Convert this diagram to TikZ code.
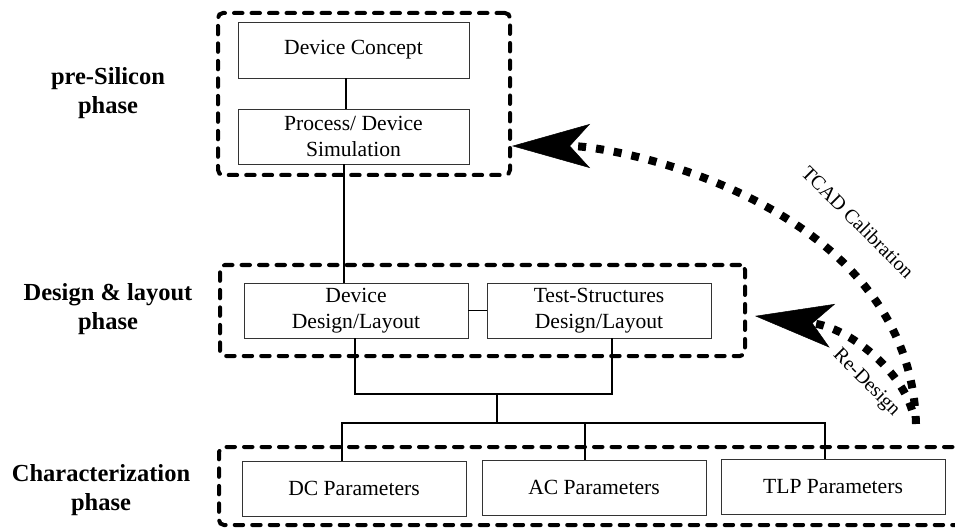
\documentclass[tikz,border=0pt]{standalone}
\usepackage{fontspec}
\setmainfont{Liberation Serif}
\usetikzlibrary{arrows.meta,calc}

\begin{document}
\begin{tikzpicture}[x=1pt,y=-1pt,
  stepbox/.style={draw=black!80, line width=0.9pt, inner sep=0pt, align=center,
    minimum width=224pt, minimum height=55pt, font=\fontsize{21.6}{25.5}\selectfont},
  phasebox/.style={draw=black, line width=4pt, dash pattern=on 8.5pt off 9pt,
    line cap=round, rounded corners=5pt, inner sep=0pt},
  phaselabel/.style={align=center, font=\bfseries\fontsize{24.5}{29}\selectfont},
  link/.style={draw=black, line width=1.2pt},
  feedback/.style={draw=black, line width=8pt, dash pattern=on 8pt off 10pt,
    -{Stealth[length=78pt,width=44pt,inset=20pt,line width=0.5pt]}},
  fblabel/.style={rotate=-45, font=\fontsize{20}{24}\selectfont}]

\useasboundingbox (0,0) rectangle (955,529);
\clip (0,0) rectangle (955,529);

% phase groups
\node[phasebox, minimum width=292pt, minimum height=162pt] (g1) at (364,94) {};
\node[phasebox, minimum width=525pt, minimum height=91pt]  (g2) at (482.5,310.5) {};
\node[phasebox, minimum width=756pt, minimum height=78pt]  (g3) at (597,486) {};

% phase labels
\node[phaselabel] (l1) at (108,93)  {pre-Silicon\\phase};
\node[phaselabel] (l2) at (108,309) {Design \& layout\\phase};
\node[phaselabel] (l3) at (101,490) {Characterization\\phase};

% steps
\node[stepbox, minimum width=231pt, minimum height=56pt] (concept) at (353.5,50) {Device Concept};
\node[stepbox, minimum width=231pt] (proc) at (353.5,136.5) {Process/ Device\\Simulation};
\node[stepbox] (design) at (356,310.5) {Device\\Design/Layout};
\node[stepbox] (test)   at (599,310.5) {Test-Structures\\Design/Layout};
\node[stepbox] (dcp) at (354,488.5) {DC Parameters};
\node[stepbox] (acp) at (594,487.5) {AC Parameters};
\node[stepbox] (tlp) at (833,486.5) {TLP Parameters};

% connector positions
\coordinate (c1) at (346,0);
\coordinate (c2) at (344,0);
\coordinate (c3) at (355,0);
\coordinate (c4) at (612,0);
\coordinate (c5) at (497,394);
\coordinate (c6) at (497,423);
\coordinate (c7) at (342,0);
\coordinate (c8) at (585,0);
\coordinate (c9) at (825,0);

\draw[link] (concept.south -| c1) -- (proc.north -| c1);
\draw[link] (proc.south -| c2) -- (design.north -| c2);
\draw[link] (design.east) -- (test.west);
\draw[link] (design.south -| c3) |- (c5) -| (test.south -| c4);
\draw[link] (c5) -- (c6);
\draw[link] (dcp.north -| c7) |- (c6) -| (tlp.north -| c9);
\draw[link] (c6 -| c8) -- (acp.north -| c8);

% feedback loops
\coordinate (tcadStart) at (916,424);
\coordinate (tcadEnd) at ($(g1.east)+(0,52)$);
\coordinate (redesStart) at (912,410);
\coordinate (redesEnd) at ($(g2.east)+(8,5.5)$);

\draw[feedback] (tcadStart) .. controls (910,205) and (620,146) .. (tcadEnd);
\draw[feedback] (redesStart) .. controls (900,370) and (850,328) .. (redesEnd);

\node[fblabel] (tcadlabel) at (858,222) {TCAD Calibration};
\node[fblabel] (redeslabel) at (866,383) {Re-Design};
\end{tikzpicture}
\end{document}
